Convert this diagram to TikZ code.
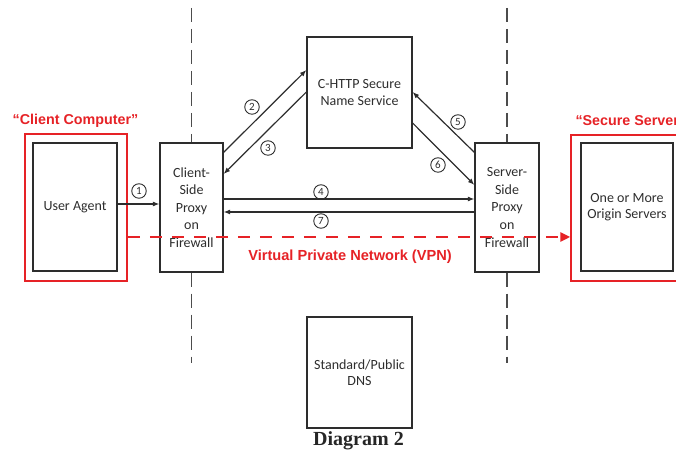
\documentclass[tikz,border=0pt]{standalone}
\usepackage{fontspec}
\setmainfont{Carlito}
\newfontfamily\diagfont{Liberation Serif}
\newfontfamily\labelfont{Liberation Sans}
\usetikzlibrary{arrows.meta}
\definecolor{vred}{RGB}{230,34,38}
\definecolor{ink}{RGB}{45,45,45}
\tikzset{
  box/.style={draw=ink, line width=1.2pt, align=center, inner sep=0pt, text=ink,
              font=\fontsize{14}{16.5}\selectfont},
  proxy/.style={box, font=\fontsize{14}{17.6}\selectfont, minimum width=63pt, minimum height=129pt},
  redbox/.style={draw=vred, line width=1.5pt, inner sep=0pt},
  num/.style={circle, draw=ink, line width=0.9pt, inner sep=0pt, minimum size=14.5pt, text=ink,
              font=\fontsize{11}{11}\selectfont},
  flow/.style={draw=ink, line width=1.2pt, -{Latex[length=6.5pt,width=5pt]}},
  sep/.style={draw=ink!85, line width=1.6pt, dash pattern=on 14pt off 7pt},
  vpn/.style={draw=vred, line width=2.6pt, dash pattern=on 12pt off 10pt,
              -{Triangle[length=10pt,width=9pt]}},
  redlabel/.style={text=vred, font=\labelfont\bfseries\fontsize{14.3}{14.3}\selectfont},
}
\begin{document}
\begin{tikzpicture}[x=1pt,y=1pt]
\useasboundingbox (0,0) rectangle (676,454);
\clip (0,0) rectangle (676,454);

% red group boxes
\node[redbox, minimum width=102pt, minimum height=147pt] (client) at (76,246.5) {};
\node[redbox, minimum width=129pt, minimum height=146pt] (server) at (635.5,246) {};
\node[redlabel] (clientlbl) at (75.5,333) {“Client Computer”};
\node[redlabel, anchor=west] (serverlbl) at (572,333) {“Secure Server”};

% boxes
\node[box, minimum width=84pt, minimum height=128pt] (ua) at (75,247) {User Agent};
\node[proxy] (csp) at (191.5,246.5) {Client-\\Side\\Proxy\\on\\Firewall};
\node[proxy, minimum width=64pt] (ssp) at (507,246.5) {Server-\\Side\\Proxy\\on\\Firewall};
\node[box, minimum width=105pt, minimum height=111pt] (chttp) at (359.5,361.5) {C-HTTP Secure\\Name Service};
\node[box, minimum width=92pt, minimum height=128pt] (origin) at (627,247) {One or More\\Origin Servers};
\node[box, minimum width=105pt, minimum height=111pt] (dns) at (359.5,81.5) {Standard/Public\\DNS};

% separators
\coordinate (lt) at (191.5,446);
\coordinate (lb) at (191.5,91);
\coordinate (rt) at (507,446);
\coordinate (rb) at (507,91);
\draw[sep] (lt) -- (csp.north);
\draw[sep] (csp.south) -- (lb);
\draw[sep] (rt) -- (ssp.north);
\draw[sep] (ssp.south) -- (rb);

% flows
\draw[flow] ([yshift=3pt]ua.east) -- ([yshift=3.5pt]csp.west);
\draw[flow] ([yshift=-10pt]csp.north east) -- ([yshift=22.5pt]chttp.west);
\draw[flow] ([yshift=0.5pt]chttp.west) -- ([yshift=33.5pt]csp.east);
\draw[flow] ([yshift=8.5pt]csp.east) -- ([yshift=8.5pt]ssp.west);
\draw[flow] ([yshift=-4.5pt]ssp.west) -- ([yshift=-4.5pt]csp.east);
\draw[flow] ([yshift=-10pt]ssp.north west) -- ([yshift=0.5pt]chttp.east);
\draw[flow] ([yshift=-30.5pt]chttp.east) -- ([yshift=22.5pt]ssp.west);

% VPN
\draw[vpn] ([yshift=-29.5pt]client.east) -- ([yshift=-29pt]server.west);
\node[redlabel, font=\labelfont\bfseries\fontsize{14.6}{14.6}\selectfont] (vpnlbl) at (350,197) {Virtual Private Network (VPN)};

% step numbers
\node[num] (n1) at (139,263) {1};
\node[num] (n2) at (252,347) {2};
\node[num] (n3) at (268,306) {3};
\node[num] (n4) at (321,262) {4};
\node[num] (n5) at (458,332) {5};
\node[num] (n6) at (438,289) {6};
\node[num] (n7) at (321,233) {7};

% caption
\node[font=\diagfont\bfseries\fontsize{20}{20}\selectfont, text=black!85] (cap) at (358.5,13) {Diagram 2};
\end{tikzpicture}
\end{document}
